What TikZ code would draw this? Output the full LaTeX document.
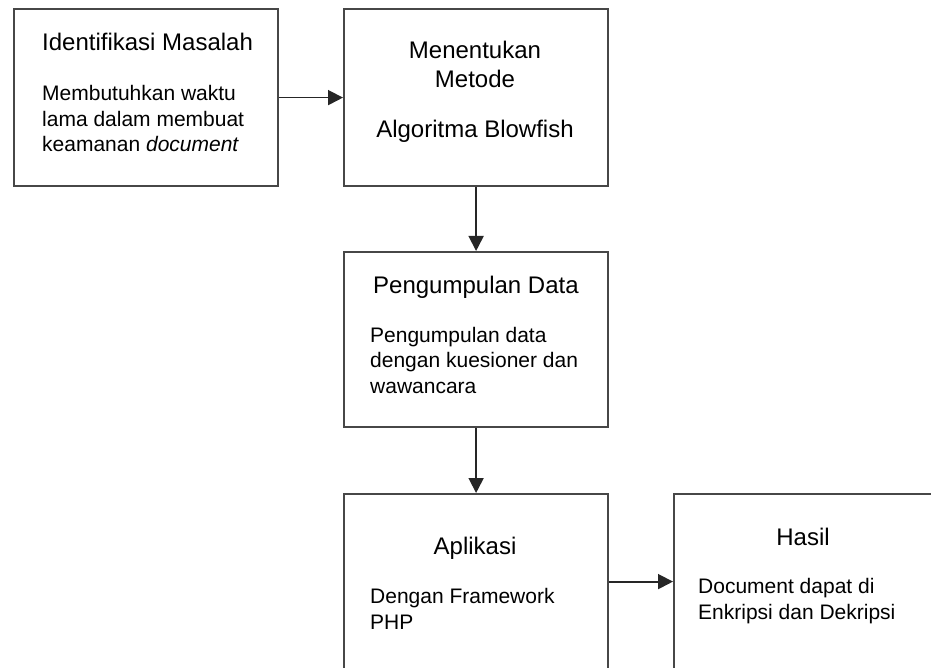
\documentclass[tikz,border=0pt]{standalone}
\usepackage{fontspec}
\setmainfont{Liberation Sans}
\usetikzlibrary{arrows.meta}
\tikzset{
  boxst/.style={draw=black!72, line width=2.2pt, fill=white},
  titlest/.style={inner sep=0pt, font=\fontsize{24}{29}\selectfont},
  bodyst/.style={inner sep=0pt, align=left, font=\fontsize{21}{25.5}\selectfont},
  arr/.style={line width=1.8pt, draw=black!85, -{Triangle[length=15pt,width=15pt]}}
}
\begin{document}
\begin{tikzpicture}[x=1pt,y=-1pt]
\useasboundingbox (0,0) rectangle (931,668);
% boxes
\node[boxst, minimum width=264pt, minimum height=177pt, anchor=north west, inner sep=0] (b1) at (13,8) {};
\node[boxst, minimum width=264pt, minimum height=177pt, anchor=north west, inner sep=0] (b2) at (343,8) {};
\node[boxst, minimum width=264pt, minimum height=175pt, anchor=north west, inner sep=0] (b3) at (343,251) {};
\node[boxst, minimum width=264pt, minimum height=175pt, anchor=north west, inner sep=0] (b4) at (343,493) {};
\node[boxst, minimum width=260pt, minimum height=175pt, anchor=north west, inner sep=0] (b5) at (673,493) {};
% texts (base anchor of a multi-line node = baseline of its last line)
\node[titlest, anchor=base west] (t1) at (42,51) {Identifikasi Masalah};
\node[bodyst, anchor=base west] (d1) at (42,152) {Membutuhkan waktu\\lama dalam membuat\\keamanan \textit{document}};
\node[titlest, anchor=base, align=center] (t2) at (475,88) {Menentukan\\Metode};
\node[titlest, anchor=base] (d2) at (475,138) {Algoritma Blowfish};
\node[titlest, anchor=base west] (t3) at (373,293) {Pengumpulan Data};
\node[bodyst, anchor=base west] (d3) at (370,393) {Pengumpulan data\\dengan kuesioner dan\\wawancara};
\node[titlest, anchor=base] (t4) at (475,554) {Aplikasi};
\node[bodyst, anchor=base west] (d4) at (370,629) {Dengan Framework\\PHP};
\node[titlest, anchor=base] (t5) at (803,545) {Hasil};
\node[bodyst, anchor=base west] (d5) at (698,619) {Document dapat di\\Enkripsi dan Dekripsi};
% connectors
\draw[arr] (b1.east) -- (b2.west);
\draw[arr] (b2.south) -- (b3.north);
\draw[arr] (b3.south) -- (b4.north);
\draw[arr] (b4.east) -- (b5.west);
\end{tikzpicture}
\end{document}
